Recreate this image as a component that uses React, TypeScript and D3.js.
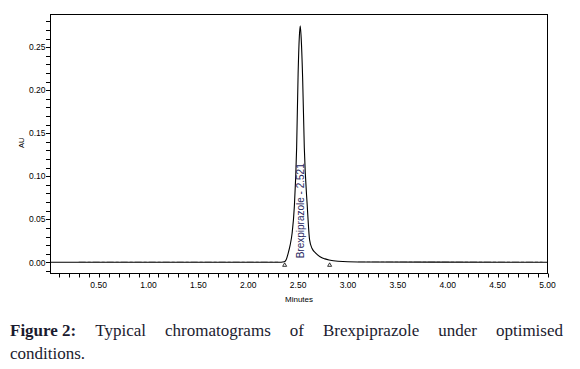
import React from "react";
import * as d3 from "d3";

// Chromatogram trace (minutes, AU)
const times = [0.02, 2.3, 2.36, 2.38, 2.4, 2.42, 2.44, 2.462, 2.485, 2.5, 2.512, 2.521, 2.53, 2.545, 2.562, 2.592, 2.615, 2.64, 2.676, 2.72, 2.77, 2.81, 2.9, 3.1, 5.0];
const absorbance = [0.0, 0.0, 0.0006, 0.003, 0.0105, 0.02, 0.034, 0.0647, 0.133, 0.22, 0.262, 0.275, 0.262, 0.215, 0.133, 0.0647, 0.026, 0.016, 0.0108, 0.0065, 0.004, 0.0027, 0.0012, 0.0004, 0.0];
const peakName = "Brexpiprazole";
const peakRT = 2.521;
const peakStartEnd = [2.365, 2.816];
const xTickLabels = ["0.50", "1.00", "1.50", "2.00", "2.50", "3.00", "3.50", "4.00", "4.50", "5.00"];
const yTickLabels = ["0.00", "0.05", "0.10", "0.15", "0.20", "0.25"];
const blankSegments = [[0.3, 2.3], [3.1, 4.95]];
const captionLine1 = "Typical chromatograms of Brexpiprazole under optimised";
const captionLine2 = "conditions.";

const W = 580, H = 369;
const left = 50.5, right = 547.5, top = 14.5, bottom = 273.5;

export default function App() {
  const x = d3.scaleLinear().domain([0.0175, 5.0]).range([left, right]);
  const y = d3.scaleLinear().domain([-0.013, 0.288]).range([bottom, top]);
  const pts: [number, number][] = times.map((t, i) => [t, absorbance[i]]);
  const line = d3.line<[number, number]>().x(d => x(d[0])).y(d => y(d[1])).curve(d3.curveMonotoneX);
  const xMinor = d3.range(1, 51).map(i => i / 10);
  const yMinor = d3.range(-1, 29).map(i => i / 100);
  const font = "'Liberation Sans', Arial, sans-serif";
  const capStyle: React.CSSProperties = { fontFamily: "'Liberation Serif', 'Times New Roman', serif", fontSize: 17, lineHeight: "23.5px", color: "#1b1b2f", whiteSpace: "nowrap" };
  return (
    <div style={{ position: "absolute", left: 0, top: 0, width: W, height: H, background: "#fff" }}>
      <svg width={W} height={H} style={{ position: "absolute", left: 0, top: 0 }}>
        <rect x={0} y={0} width={W} height={H} fill="#fff" />
        {blankSegments.map((s, i) => (
          <line key={i} x1={x(s[0])} x2={x(s[1])} y1={y(0.0006)} y2={y(0.0006)} stroke="#bdbdbd" strokeWidth={1} strokeDasharray="7,2,3,2" />
        ))}
        <path d={line(pts) || ""} fill="none" stroke="#000" strokeWidth={1.1} />
        {peakStartEnd.map((t, i) => (
          <path key={i} d={`M${x(t)},${y(0) + 0.5} l-2,3.5 l4,0 z`} fill="none" stroke="#000" strokeWidth={0.8} />
        ))}
        <text transform={`translate(${x(peakRT) + 3.5},${y(0) - 4}) rotate(-90)`} fontFamily={font} fontSize={10} fill="#26265e">
          {`${peakName} - ${peakRT.toFixed(3)}`}
        </text>
        <rect x={left} y={top} width={right - left} height={bottom - top} fill="none" stroke="#000" strokeWidth={1} />
        {xMinor.map(t => (
          <line key={"xt" + t} x1={Math.round(x(t)) + 0.5} x2={Math.round(x(t)) + 0.5} y1={bottom} y2={bottom + 4} stroke="#000" strokeWidth={1} />
        ))}
        {yMinor.map(v => (
          <line key={"yt" + v} x1={left - 4.5} x2={left} y1={Math.round(y(v)) + 0.5} y2={Math.round(y(v)) + 0.5} stroke="#000" strokeWidth={1} />
        ))}
        {xTickLabels.map(l => (
          <text key={l} x={x(+l)} y={287.5} textAnchor="middle" fontFamily={font} fontSize={8.5} fill="#000">{l}</text>
        ))}
        {yTickLabels.map(l => (
          <text key={l} x={45.5} y={y(+l) + 3.2} textAnchor="end" fontFamily={font} fontSize={8.5} fill="#000">{l}</text>
        ))}
        <text x={(left + right) / 2} y={301.5} textAnchor="middle" fontFamily={font} fontSize={8} fill="#000">Minutes</text>
        <text transform={`translate(24,${(y(0) + y(0.28)) / 2 + 1}) rotate(-90)`} textAnchor="middle" fontFamily={font} fontSize={7.5} fill="#000">AU</text>
      </svg>
      <div style={{ ...capStyle, position: "absolute", left: 10, top: 318.5, width: 553, display: "flex", justifyContent: "space-between" }}>
        {["Figure 2:", ...captionLine1.split(" ")].map((w, i) => (
          <span key={i} style={{ fontWeight: i === 0 ? "bold" : "normal" }}>{w}</span>
        ))}
      </div>
      <div style={{ ...capStyle, position: "absolute", left: 10, top: 342 }}>{captionLine2}</div>
    </div>
  );
}
